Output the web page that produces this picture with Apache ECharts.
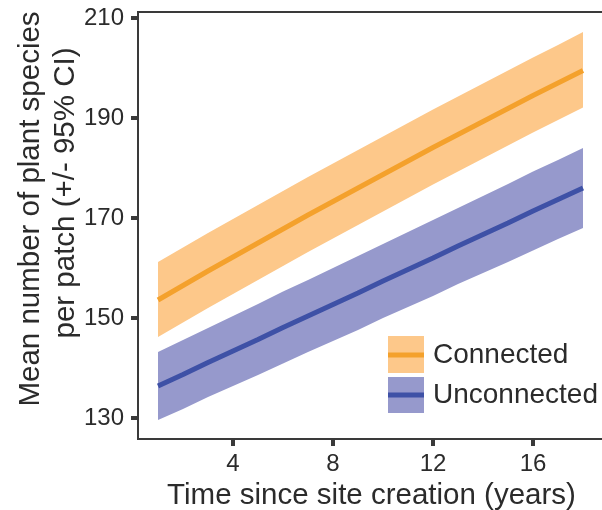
<!DOCTYPE html>
<html>
<head>
<meta charset="utf-8">
<style>html,body{margin:0;padding:0;background:#fff;}#chart{width:602px;height:510px;}</style>
<script src="https://cdn.jsdelivr.net/npm/echarts@6/dist/echarts.min.js"></script>
</head>
<body>
<div id="chart"></div>
<script>
const years = [1,2,3,4,5,6,7,8,9,10,11,12,13,14,15,16,17,18];
const connectedMean  = [153.6,156.5,159.4,162.2,165.0,167.8,170.6,173.3,176.0,178.7,181.4,184.1,186.7,189.3,191.9,194.5,197.0,199.5];
const connectedUpper = [161.2,164.1,167.0,169.8,172.6,175.4,178.2,180.9,183.6,186.3,189.0,191.7,194.3,196.9,199.5,202.1,204.6,207.2];
const connectedLower = [146.2,149.1,152.0,154.8,157.6,160.4,163.2,165.9,168.6,171.3,174.0,176.7,179.3,181.9,184.5,187.1,189.6,192.1];
const unconnectedMean  = [136.4,138.7,141.1,143.4,145.7,148.1,150.4,152.7,155.0,157.4,159.7,162.0,164.4,166.7,169.0,171.4,173.7,176.0];
const unconnectedUpper = [143.2,145.6,148.0,150.4,152.8,155.3,157.6,160.0,162.4,164.8,167.2,169.6,172.0,174.4,176.8,179.3,181.6,184.0];
const unconnectedLower = [129.6,131.8,134.2,136.4,138.6,140.9,143.2,145.4,147.6,150.0,152.2,154.4,156.8,159.0,161.2,163.5,165.8,168.0];
const xTicks = [4,8,12,16];
const yTicks = [130,150,170,190,210];
const seriesNames = ['Connected','Unconnected'];

const C_BAND = '#fdc88a', C_LINE = '#f4a12c';
const U_BAND = '#9699cc', U_LINE = '#3e51a6';
const FONT = "'Liberation Sans', Arial, sans-serif";
const TXT = '#2b2b2b';

const pair = (xs, ys) => xs.map((x, i) => [x, ys[i]]);

function band(lower, upper, color) {
  const data = years.map((x, i) => [x, lower[i], upper[i]]);
  return {
    type: 'custom', data: data, silent: true, z: 1,
    encode: { x: 0, y: [1, 2] },
    renderItem: function (params, api) {
      if (params.dataIndex !== 0) return null;
      const top = data.map(d => api.coord([d[0], d[2]]));
      const bot = data.map(d => api.coord([d[0], d[1]])).reverse();
      return { type: 'polygon', shape: { points: top.concat(bot) }, style: { fill: color } };
    }
  };
}

const chart = echarts.init(document.getElementById('chart'), null, { renderer: 'canvas' });
chart.setOption({
  animation: false,
  backgroundColor: '#fff',
  grid: { left: 138, right: -3, top: 12, bottom: 71, outerBoundsMode: 'none', containLabel: false,
          show: true, borderColor: '#3a3a3a', borderWidth: 2, backgroundColor: 'transparent' },
  xAxis: {
    type: 'value', min: 0.2, max: 18.88,
    name: 'Time since site creation (years)', nameLocation: 'middle', nameGap: 34,
    nameTextStyle: { fontFamily: FONT, fontSize: 29.5, color: TXT },
    splitLine: { show: false },
    axisLine: { show: true, lineStyle: { color: '#3a3a3a', width: 2 } },
    axisTick: { show: true, length: 7, lineStyle: { color: '#3a3a3a', width: 4 }, customValues: xTicks },
    axisLabel: { fontFamily: FONT, fontSize: 24, color: TXT, margin: 13, customValues: xTicks }
  },
  yAxis: {
    type: 'value', min: 125.8, max: 211.2,
    splitLine: { show: false },
    axisLine: { show: true, lineStyle: { color: '#3a3a3a', width: 2 } },
    axisTick: { show: true, length: 7, lineStyle: { color: '#3a3a3a', width: 4 }, customValues: yTicks },
    axisLabel: { fontFamily: FONT, fontSize: 24, color: TXT, margin: 14, customValues: yTicks }
  },
  series: [
    band(connectedLower, connectedUpper, C_BAND),
    band(unconnectedLower, unconnectedUpper, U_BAND),
    { name: seriesNames[0], type: 'line', data: pair(years, connectedMean), symbol: 'none',
      lineStyle: { color: C_LINE, width: 5 }, z: 3 },
    { name: seriesNames[1], type: 'line', data: pair(years, unconnectedMean), symbol: 'none',
      lineStyle: { color: U_LINE, width: 5 }, z: 3 }
  ],
  graphic: [
    { type: 'text', x: 31, y: 209, rotation: Math.PI / 2,
      style: { text: 'Mean number of plant species', fontFamily: FONT, fontSize: 29.5, fill: TXT, align: 'center', verticalAlign: 'middle' } },
    { type: 'text', x: 66, y: 193, rotation: Math.PI / 2,
      style: { text: 'per patch (+/- 95% CI)', fontFamily: FONT, fontSize: 29.5, fill: TXT, align: 'center', verticalAlign: 'middle' } },
    { type: 'rect', shape: { x: 388, y: 336, width: 36, height: 37 }, style: { fill: C_BAND } },
    { type: 'line', shape: { x1: 388, y1: 355, x2: 424, y2: 355 }, style: { stroke: C_LINE, lineWidth: 5 } },
    { type: 'rect', shape: { x: 388, y: 377, width: 36, height: 36 }, style: { fill: U_BAND } },
    { type: 'line', shape: { x1: 388, y1: 395, x2: 424, y2: 395 }, style: { stroke: U_LINE, lineWidth: 5 } },
    { type: 'text', x: 433, y: 355, style: { text: seriesNames[0], fontFamily: FONT, fontSize: 28, fill: TXT, align: 'left', verticalAlign: 'middle' } },
    { type: 'text', x: 433, y: 395, style: { text: seriesNames[1], fontFamily: FONT, fontSize: 28, fill: TXT, align: 'left', verticalAlign: 'middle' } }
  ]
});
</script>
</body>
</html>
